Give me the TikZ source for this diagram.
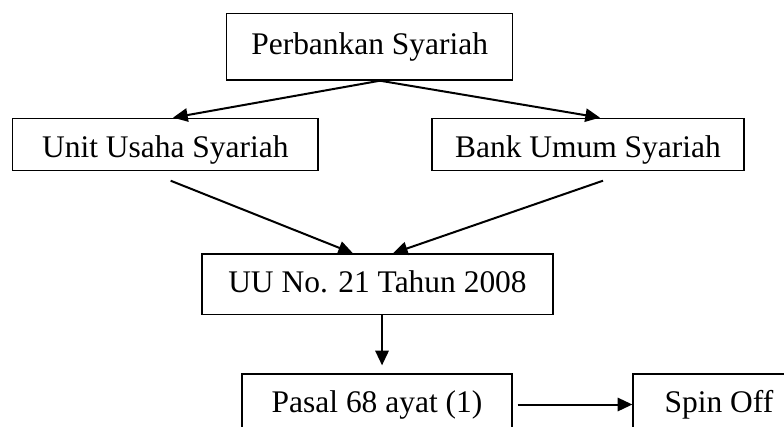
\documentclass[tikz,border=0pt]{standalone}
\usepackage{fontspec}
\setmainfont{Liberation Serif}
\usetikzlibrary{arrows.meta}

\begin{document}
\begin{tikzpicture}[x=0.75pt, y=-0.75pt,
	kotak/.style={draw, line width=1pt, inner xsep=0pt, inner ysep=0pt,
		text height=17pt, text depth=5pt, font=\fontsize{23.6}{28}\selectfont},
	panah/.style={-{Triangle[length=11pt,width=10pt]}, line width=1.5pt}]
	\clip (0,0) rectangle (784,426);
	
	% kotak atas
	\node[kotak, minimum width=214.5pt, minimum height=50pt] (perbankan) at (369.7,46.7) {Perbankan Syariah};
	
	% dua bentuk bank syariah
	\node[kotak, minimum width=229pt, minimum height=39.3pt, text height=25pt] (unit) at (165.3,144.5) {Unit Usaha Syariah};
	\node[kotak, minimum width=234.2pt, minimum height=39.3pt, text height=25pt] (bank) at (588,144.5) {Bank Umum Syariah};
	
	% undang-undang
	\node[kotak, minimum width=263.25pt, minimum height=45.5pt] (uu) at (377.5,284.3) {UU No. 21 Tahun 2008};
	
	% baris bawah (terpotong)
	\node[kotak, minimum width=202.5pt, minimum height=45.75pt] (pasal) at (377,404.5) {Pasal 68 ayat (1)};
	\node[kotak, minimum width=129pt, minimum height=45.75pt] (spin) at (719,404.5) {Spin Off};
	
	% panah
	\draw[panah] ([xshift=7.7pt]perbankan.south) -- ([xshift=5.8pt]unit.north);
	\draw[panah] ([xshift=7.7pt]perbankan.south) -- ([xshift=9pt]bank.north);
	\draw[panah] ([xshift=4pt, yshift=-7pt]unit.south) -- ([xshift=-18.4pt]uu.north);
	\draw[panah] ([xshift=11.25pt, yshift=-7pt]bank.south) -- ([xshift=11.6pt]uu.north);
	\coordinate (turun) at ([xshift=3.4pt]uu.south);
	\draw[panah, shorten >=6pt] (turun) -- (turun |- pasal.north);
	\draw[panah, shorten <=3.75pt] (pasal.east) -- (spin.west);
\end{tikzpicture}
\end{document}
